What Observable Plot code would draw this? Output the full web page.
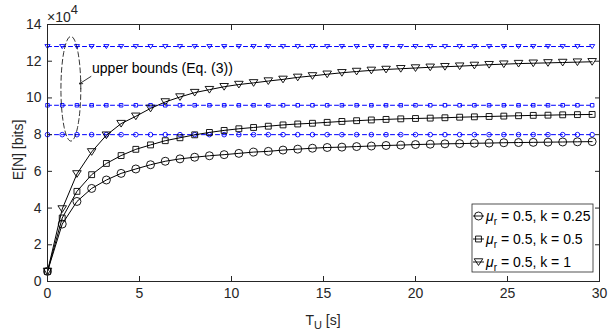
<!DOCTYPE html>
<html><head><meta charset="utf-8">
<script src="https://cdn.jsdelivr.net/npm/d3@7"></script>
<script src="https://cdn.jsdelivr.net/npm/@observablehq/plot@0.6"></script>
<style>
body{margin:0;background:#fff}
svg{font-family:"Liberation Sans",Arial,Helvetica,sans-serif}
</style>
</head><body><div id="chart"></div>
<script>
// ---- data (E[N] in units of 10^4 bits) ----
const tU = [0,0.8,1.6,2.4,3.2,4,4.8,5.6,6.4,7.2,8,8.8,9.6,10.4,11.2,12,12.8,13.6,14.4,15.2,16,16.8,17.6,18.4,19.2,20,20.8,21.6,22.4,23.2,24,24.8,25.6,26.4,27.2,28,28.8,29.6];
const k025 = [0.55,3.13,4.36,5.07,5.53,5.89,6.13,6.36,6.55,6.68,6.77,6.85,6.91,6.98,7.05,7.09,7.16,7.21,7.26,7.30,7.32,7.35,7.38,7.41,7.43,7.46,7.48,7.50,7.51,7.53,7.54,7.56,7.57,7.58,7.59,7.60,7.61,7.62];
const k05  = [0.55,3.46,4.91,5.82,6.43,6.86,7.20,7.44,7.67,7.83,7.99,8.12,8.23,8.32,8.39,8.46,8.53,8.58,8.62,8.67,8.72,8.76,8.80,8.83,8.86,8.88,8.90,8.92,8.95,8.97,8.99,9.01,9.03,9.05,9.06,9.08,9.09,9.10];
const k1   = [0.55,3.95,5.86,7.06,7.97,8.60,9.00,9.43,9.78,10.05,10.29,10.45,10.61,10.73,10.82,10.92,11.01,11.12,11.20,11.29,11.37,11.44,11.50,11.55,11.59,11.63,11.67,11.70,11.73,11.77,11.81,11.84,11.87,11.89,11.91,11.93,11.95,11.97];
const upperBounds = [8.0, 9.6, 12.8];
const seriesK = ["0.25", "0.5", "1"];
const muR = "0.5";
const xTicks = [0,5,10,15,20,25,30];
const yTicks = [0,2,4,6,8,10,12,14];
const annotText = "upper bounds (Eq. (3))";
const ellipseSpec = {cx: 1.27, cy: 10.5, rx: 0.54, ry: 2.85};
const arrowSpec = {x1: 2.36, y1: 11.17, x2: 1.74, y2: 10.77};
const textSpec = {x: 2.42, y: 11.62};

// ---- symbols ----
const triDown = {draw(ctx, size){ const r = Math.sqrt(size/Math.PI); ctx.moveTo(-r,-0.75*r); ctx.lineTo(r,-0.75*r); ctx.lineTo(0,0.8*r); ctx.closePath(); }};
const symbols = [d3.symbolCircle, d3.symbolSquare, triDown];
const blackR = [4.0, 3.3, 4.3];
const blueR = [2.3, 2.0, 2.6];

const curves = [k025, k05, k1];
const rows = curves.flatMap((vals, s) => vals.map((v, i) => ({t: tU[i], v, s})));
const boundRows = upperBounds.flatMap((b, s) => tU.map(t => ({t, v: b, s})));

const ellipsePts = d3.range(0, 361, 4).map(a => ({
  x: ellipseSpec.cx + ellipseSpec.rx * Math.cos(a*Math.PI/180),
  y: ellipseSpec.cy + ellipseSpec.ry * Math.sin(a*Math.PI/180)
}));

const ink = "#262626";
const plot = Plot.plot({
  width: 608, height: 331,
  marginLeft: 47, marginRight: 9, marginTop: 24, marginBottom: 50,
  style: {color: ink, fontSize: "14px", background: "white"},
  x: {domain: [0, 30], label: null},
  y: {domain: [0, 14], label: null},
  marks: [
    // blue dashed upper bounds
    Plot.line(boundRows, {x: "t", y: "v", z: "s", stroke: "#0000ff", strokeWidth: 1, strokeDasharray: "4,3"}),
    ...[0,1,2].map(s => Plot.dot(boundRows.filter(d => d.s === s), {x: "t", y: "v", symbol: symbols[s], r: blueR[s], stroke: "#0000ff", strokeWidth: 0.9, fill: "none"})),
    // black curves
    Plot.line(rows, {x: "t", y: "v", z: "s", stroke: "black", strokeWidth: 1}),
    ...[0,1,2].map(s => Plot.dot(rows.filter(d => d.s === s), {x: "t", y: "v", symbol: symbols[s], r: blackR[s], stroke: "black", strokeWidth: 0.9, fill: "none"})),
    // annotation
    Plot.line(ellipsePts, {x: "x", y: "y", stroke: "black", strokeWidth: 0.8, strokeDasharray: "5,3"}),
    Plot.arrow([arrowSpec], {x1: "x1", y1: "y1", x2: "x2", y2: "y2", stroke: "black", strokeWidth: 0.8, headLength: 6}),
    Plot.text([textSpec], {x: "x", y: "y", text: () => annotText, textAnchor: "start", fontSize: 14, fill: "black"}),
    // frame + axes
    Plot.frame({stroke: ink, strokeWidth: 1}),
    Plot.axisX(xTicks, {anchor: "bottom", tickSize: 0, tickPadding: 7, fontSize: 14, label: null}),
    Plot.axisY(yTicks, {anchor: "left", tickSize: 0, tickPadding: 6, fontSize: 14, label: null}),
    Plot.axisX(xTicks, {anchor: "bottom", tickSize: -5, fill: "none", label: null}),
    Plot.axisX(xTicks, {anchor: "top", tickSize: -5, fill: "none", label: null}),
    Plot.axisY(yTicks, {anchor: "left", tickSize: -5, fill: "none", label: null}),
    Plot.axisY(yTicks, {anchor: "right", tickSize: -5, fill: "none", label: null})
  ]
});
document.getElementById("chart").appendChild(plot);

// ---- extra texts & legend ----
const svg = d3.select(plot);
// exponent label
const ex = svg.append("text").attr("x", 47).attr("y", 22).attr("text-anchor", "start").attr("fill", ink).attr("font-size", 14);
ex.append("tspan").text("×10");
ex.append("tspan").attr("dy", -8).attr("font-size", 13).text("4");
// y label
svg.append("text").attr("transform", "translate(23,150) rotate(-90)").attr("text-anchor", "middle")
  .attr("fill", ink).attr("font-size", 14).text("E[N] [bits]");
// x label
const xl = svg.append("text").attr("x", 323).attr("y", 325).attr("text-anchor", "middle").attr("fill", ink).attr("font-size", 14);
xl.append("tspan").text("T");
xl.append("tspan").attr("dy", 4).attr("font-size", 11).text("U");
xl.append("tspan").attr("dy", -4).text(" [s]");

// legend
const lg = svg.append("g");
const lx = 472, ly = 204, lw = 121, lh = 68;
lg.append("rect").attr("x", lx).attr("y", ly).attr("width", lw).attr("height", lh)
  .attr("fill", "white").attr("stroke", ink).attr("stroke-width", 0.8);
seriesK.forEach((k, s) => {
  const cy = 216 + s * 23;
  lg.append("line").attr("x1", 473).attr("x2", 484).attr("y1", cy).attr("y2", cy).attr("stroke", "black").attr("stroke-width", 0.9);
  lg.append("path").attr("transform", `translate(478.5,${cy})`)
    .attr("d", d3.symbol(symbols[s], Math.PI * blackR[s] * blackR[s])())
    .attr("fill", "none").attr("stroke", "black").attr("stroke-width", 0.9);
  const t = lg.append("text").attr("x", 486).attr("y", cy).attr("dy", "0.35em").attr("text-anchor", "start").attr("fill", "black").attr("font-size", 14);
  t.append("tspan").attr("font-style", "italic").text("μ");
  t.append("tspan").attr("dy", 4).attr("font-size", 10).text("r");
  t.append("tspan").attr("dy", -4).text(` = ${muR}, k = ${k}`);
});
</script>
</body></html>
